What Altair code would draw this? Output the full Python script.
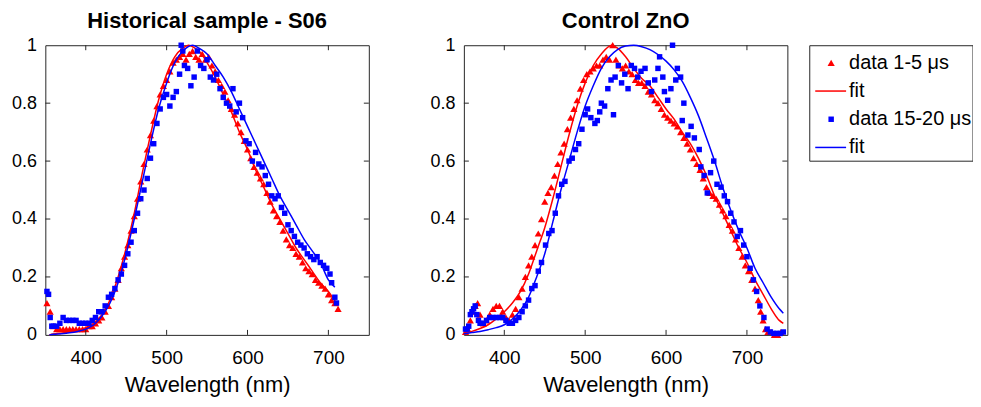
import altair as alt
import pandas as pd

FONT = "Liberation Sans"
RED = "#FF0000"
BLUE = "#0000FF"
AXC = "#262626"
W, H = 325, 291

x_ticks = [400, 500, 600, 700]
y_ticks = [0, 0.2, 0.4, 0.6, 0.8, 1]

# ---------------- Historical sample - S06 ----------------
s06_red_nm = [352, 356, 360, 364, 368, 372, 376, 380, 384, 388,
              392, 396, 400, 404, 408, 412, 416, 420, 424, 428,
              432, 436, 440, 444, 448, 452, 456, 460, 464, 468,
              472, 476, 480, 484, 488, 492, 496, 500, 504, 508,
              512, 516, 520, 524, 528, 532, 536, 540, 544, 548,
              552, 556, 560, 564, 568, 572, 576, 580, 584, 588,
              592, 596, 600, 604, 608, 612, 616, 620, 624, 628,
              632, 636, 640, 644, 648, 652, 656, 660, 664, 668,
              672, 676, 680, 684, 688, 692, 696, 700, 704, 708,
              712]
s06_red_val = [0.11, 0.08, 0.03, 0.02, 0.02, 0.02, 0.02, 0.02, 0.02, 0.02,
               0.02, 0.02, 0.02, 0.03, 0.03, 0.04, 0.05, 0.06, 0.08, 0.10,
               0.13, 0.16, 0.19, 0.23, 0.27, 0.31, 0.36, 0.41, 0.47, 0.53,
               0.59, 0.64, 0.69, 0.74, 0.79, 0.83, 0.86, 0.88, 0.91, 0.94,
               0.95, 0.96, 0.97, 0.95, 0.97, 0.98, 0.96, 0.95, 0.97, 0.95,
               0.96, 0.93, 0.91, 0.88, 0.86, 0.84, 0.81, 0.78, 0.76, 0.73,
               0.70, 0.67, 0.64, 0.61, 0.58, 0.56, 0.54, 0.52, 0.49, 0.46,
               0.43, 0.41, 0.39, 0.36, 0.33, 0.31, 0.30, 0.28, 0.27, 0.25,
               0.23, 0.22, 0.21, 0.19, 0.18, 0.17, 0.16, 0.14, 0.12, 0.11,
               0.09]
s06_redfit_nm = [355, 360, 370, 380, 390, 400, 410, 420, 430, 440, 450, 460, 470, 480, 490,
                 500, 510, 520, 527, 535, 540, 550, 560, 570, 580, 590, 600, 610, 620, 630,
                 640, 650, 660, 670, 680, 690, 700, 712]
s06_redfit_val = [0.0, 0.003, 0.006, 0.01, 0.015, 0.025, 0.04, 0.07, 0.12, 0.20, 0.30, 0.42, 0.56, 0.69, 0.81,
                  0.90, 0.96, 0.99, 1.0, 0.99, 0.98, 0.94, 0.89, 0.83, 0.77, 0.70, 0.64, 0.57, 0.51, 0.45,
                  0.40, 0.35, 0.30, 0.26, 0.22, 0.18, 0.15, 0.10]
s06_blue_nm = [352, 354, 356, 358, 360, 364, 368, 372, 376, 380,
               384, 388, 392, 396, 400, 404, 408, 412, 416, 420,
               424, 428, 432, 436, 440, 444, 448, 452, 456, 460,
               464, 468, 472, 476, 480, 484, 488, 492, 496, 500,
               504, 508, 512, 516, 518, 520, 522, 526, 530, 534,
               538, 542, 546, 550, 554, 558, 562, 566, 570, 574,
               578, 582, 586, 590, 594, 598, 602, 606, 610, 614,
               618, 622, 626, 630, 634, 638, 642, 646, 650, 654,
               658, 662, 666, 670, 674, 678, 682, 686, 690, 694,
               698, 702, 704, 708, 710]
s06_blue_val = [0.15, 0.14, 0.06, 0.03, 0.03, 0.03, 0.04, 0.06, 0.05, 0.05,
                0.05, 0.05, 0.04, 0.04, 0.04, 0.04, 0.05, 0.06, 0.08, 0.08,
                0.10, 0.13, 0.14, 0.16, 0.19, 0.21, 0.24, 0.28, 0.32, 0.36,
                0.42, 0.47, 0.50, 0.54, 0.61, 0.66, 0.73, 0.78, 0.82, 0.83,
                0.79, 0.82, 0.84, 0.90, 1.00, 0.98, 0.93, 0.92, 0.86, 0.89,
                0.98, 0.93, 0.92, 0.95, 0.89, 0.88, 0.90, 0.85, 0.82, 0.80,
                0.79, 0.85, 0.77, 0.80, 0.75, 0.67, 0.66, 0.60, 0.63, 0.59,
                0.58, 0.55, 0.52, 0.48, 0.47, 0.48, 0.44, 0.42, 0.38, 0.36,
                0.34, 0.32, 0.31, 0.30, 0.28, 0.27, 0.26, 0.27, 0.25, 0.24,
                0.23, 0.21, 0.18, 0.13, 0.11]
s06_bluefit_nm = [355, 360, 370, 380, 390, 400, 410, 420, 430, 440, 450, 460, 470, 480, 490,
                  500, 510, 520, 532, 540, 550, 560, 570, 580, 590, 600, 610, 620, 630, 640,
                  650, 660, 670, 680, 690, 700, 708]
s06_bluefit_val = [0.0, 0.002, 0.004, 0.007, 0.012, 0.02, 0.035, 0.065, 0.11, 0.18, 0.28, 0.40, 0.53, 0.66, 0.78,
                   0.87, 0.94, 0.98, 1.0, 0.99, 0.97, 0.93, 0.89, 0.84, 0.78, 0.72, 0.66, 0.60, 0.54, 0.48,
                   0.43, 0.38, 0.33, 0.29, 0.25, 0.19, 0.165]

# ---------------- Control ZnO ----------------
zno_red_nm = [352, 355, 358, 361, 364, 367, 370, 374, 378, 382,
              386, 390, 394, 398, 402, 406, 410, 414, 418, 422,
              426, 430, 434, 438, 442, 446, 450, 454, 458, 462,
              466, 470, 474, 478, 482, 486, 490, 494, 498, 502,
              506, 510, 514, 518, 522, 526, 530, 534, 538, 542,
              546, 550, 554, 558, 562, 566, 570, 574, 578, 582,
              586, 590, 594, 598, 602, 606, 610, 614, 618, 622,
              626, 630, 634, 638, 642, 646, 650, 654, 658, 662,
              666, 670, 674, 678, 682, 686, 690, 694, 698, 702,
              706, 710, 714, 717, 720, 723, 726, 730, 734, 738,
              742]
zno_red_val = [0.01, 0.02, 0.05, 0.08, 0.10, 0.11, 0.07, 0.04, 0.05, 0.07,
               0.09, 0.10, 0.10, 0.08, 0.06, 0.05, 0.07, 0.09, 0.13, 0.16,
               0.20, 0.24, 0.27, 0.31, 0.35, 0.40, 0.46, 0.49, 0.51, 0.55,
               0.59, 0.63, 0.66, 0.71, 0.75, 0.78, 0.81, 0.85, 0.88, 0.90,
               0.91, 0.92, 0.93, 0.93, 0.95, 0.96, 0.95, 1.00, 0.95, 0.93,
               0.92, 0.93, 0.91, 0.90, 0.88, 0.87, 0.87, 0.86, 0.84, 0.83,
               0.81, 0.80, 0.78, 0.76, 0.75, 0.74, 0.73, 0.72, 0.70, 0.68,
               0.66, 0.64, 0.61, 0.59, 0.57, 0.54, 0.51, 0.49, 0.48, 0.47,
               0.45, 0.43, 0.41, 0.38, 0.36, 0.33, 0.30, 0.27, 0.24, 0.22,
               0.19, 0.16, 0.12, 0.08, 0.05, 0.02, 0.01, 0.01, 0.0, 0.0,
               0.01]
zno_redfit_nm = [350, 360, 370, 380, 390, 400, 410, 420, 430, 440, 450, 460, 470, 480, 490,
                 500, 510, 520, 533, 540, 550, 560, 570, 580, 590, 600, 610, 620, 630, 640,
                 650, 660, 670, 680, 690, 700, 710, 720, 730, 740, 745]
zno_redfit_val = [0.005, 0.012, 0.022, 0.035, 0.055, 0.08, 0.11, 0.15, 0.21, 0.29, 0.37, 0.47, 0.58, 0.69, 0.79,
                  0.87, 0.93, 0.97, 1.0, 0.99, 0.96, 0.92, 0.885, 0.86, 0.82, 0.78, 0.745, 0.70, 0.66, 0.61,
                  0.55, 0.48, 0.42, 0.36, 0.30, 0.25, 0.19, 0.14, 0.09, 0.05, 0.04]
zno_blue_nm = [352, 354, 356, 358, 360, 362, 364, 366, 368, 370,
               374, 378, 382, 386, 390, 394, 398, 402, 406, 410,
               414, 418, 422, 426, 430, 434, 438, 442, 446, 451,
               455, 459, 463, 467, 471, 475, 480, 484, 488, 492,
               496, 500, 503, 507, 512, 515, 518, 520, 524, 528,
               532, 535, 537, 541, 545, 549, 553, 557, 561, 565,
               569, 574, 578, 582, 586, 590, 592, 596, 598, 602,
               606, 608, 612, 614, 618, 620, 622, 627, 631, 635,
               641, 643, 647, 651, 655, 659, 663, 668, 672, 676,
               680, 684, 688, 692, 696, 700, 704, 708, 712, 716,
               721, 725, 729, 733, 737, 741, 745]
zno_blue_val = [0.02, 0.02, 0.03, 0.07, 0.08, 0.09, 0.10, 0.07, 0.05, 0.04,
                0.04, 0.05, 0.06, 0.06, 0.06, 0.06, 0.06, 0.05, 0.04, 0.04,
                0.05, 0.06, 0.08, 0.10, 0.12, 0.16, 0.17, 0.22, 0.25, 0.31,
                0.35, 0.36, 0.42, 0.48, 0.52, 0.53, 0.60, 0.61, 0.64, 0.66,
                0.71, 0.76, 0.78, 0.75, 0.73, 0.74, 0.77, 0.80, 0.79, 0.85,
                0.88, 0.76, 0.89, 0.93, 0.87, 0.90, 0.85, 0.93, 0.92, 0.89,
                0.91, 0.92, 0.87, 0.84, 0.88, 0.92, 0.96, 0.89, 0.84, 0.81,
                0.85, 1.00, 0.88, 0.92, 0.89, 0.74, 0.80, 0.69, 0.72, 0.68,
                0.64, 0.58, 0.55, 0.49, 0.56, 0.60, 0.52, 0.51, 0.48, 0.46,
                0.42, 0.39, 0.34, 0.36, 0.31, 0.27, 0.23, 0.19, 0.15, 0.10,
                0.06, 0.02, 0.01, 0.005, 0.005, 0.005, 0.01]
zno_bluefit_nm = [350, 360, 370, 380, 390, 400, 410, 420, 430, 440, 450, 460, 470, 480, 490,
                  500, 510, 520, 530, 540, 550, 560, 570, 580, 590, 600, 610, 620, 630, 640,
                  650, 660, 670, 680, 690, 700, 710, 720, 730, 740, 745]
zno_bluefit_val = [0.004, 0.008, 0.012, 0.018, 0.025, 0.035, 0.055, 0.085, 0.13, 0.20, 0.28, 0.39, 0.50, 0.60, 0.70,
                   0.79, 0.86, 0.92, 0.96, 0.985, 0.997, 1.0, 0.995, 0.985, 0.968, 0.945, 0.915, 0.875, 0.82, 0.757,
                   0.68, 0.60, 0.51, 0.43, 0.36, 0.30, 0.23, 0.18, 0.13, 0.09, 0.075]

# ---------------- legend ----------------
leg_labels = ["data 1-5 \u03bcs", "fit", "data 15-20 \u03bcs", "fit"]
leg_kinds = ["triangle-up", "line", "square", "line"]
leg_colors = [RED, RED, BLUE, BLUE]

TITLE_SIZE = 22
XTITLE_SIZE = 22
YLABEL_SIZE = 18
XLABEL_SIZE = 19
LEG_SIZE = 20
TRI_SIZE = 52
SQ_SIZE = 30


def df(nm, val):
    return pd.DataFrame({"nm": nm, "v": val})


def panel(title, rn, rv, rfn, rfv, bn, bv, bfn, bfv):
    xs = alt.Scale(domain=[350, 750], nice=False, zero=False)
    ys = alt.Scale(domain=[0, 1], nice=False, zero=False)
    xax = alt.Axis(values=x_ticks, format="d", title="Wavelength (nm)", grid=False,
                   ticks=False, tickSize=0, domain=False, labelPadding=14,
                   labelFontSize=XLABEL_SIZE, titleFontSize=XTITLE_SIZE, titleFontWeight="normal",
                   titlePadding=6.5, labelColor="black", titleColor="black", labelFont=FONT, titleFont=FONT)
    yax = alt.Axis(values=y_ticks, format="~g", title=None, grid=False, ticks=False, tickSize=0,
                   domain=False, labelPadding=9, labelFontSize=YLABEL_SIZE, labelColor="black",
                   labelFont=FONT)
    X = alt.X("nm:Q", scale=xs, axis=xax)
    Y = alt.Y("v:Q", scale=ys, axis=yax)

    red_pts = alt.Chart(df(rn, rv)).mark_point(shape="triangle-up", filled=True, size=TRI_SIZE,
                                               color=RED, opacity=1).encode(x=X, y=Y)
    red_fit = alt.Chart(df(rfn, rfv)).mark_line(color=RED, strokeWidth=1.5,
                                                interpolate="monotone").encode(x=X, y=Y)
    blue_pts = alt.Chart(df(bn, bv)).mark_point(shape="square", filled=True, size=SQ_SIZE,
                                                color=BLUE, opacity=1).encode(x=X, y=Y)
    blue_fit = alt.Chart(df(bfn, bfv)).mark_line(color=BLUE, strokeWidth=1.5,
                                                 interpolate="monotone").encode(x=X, y=Y)

    xt = pd.DataFrame({"nm": x_ticks})
    yt = pd.DataFrame({"v": y_ticks[1:-1]})
    tb = alt.Chart(xt).mark_rule(color=AXC, strokeWidth=1).encode(x=X, y=alt.value(H), y2=alt.value(H - 5))
    tt = alt.Chart(xt).mark_rule(color=AXC, strokeWidth=1).encode(x=X, y=alt.value(0), y2=alt.value(5))
    tl = alt.Chart(yt).mark_rule(color=AXC, strokeWidth=1).encode(y=Y, x=alt.value(0), x2=alt.value(5))
    tr = alt.Chart(yt).mark_rule(color=AXC, strokeWidth=1).encode(y=Y, x=alt.value(W), x2=alt.value(W - 5))

    return alt.layer(red_pts, red_fit, blue_pts, blue_fit, tb, tt, tl, tr).properties(
        width=W, height=H,
        view=alt.ViewBackground(stroke=AXC, strokeWidth=1),
        title=alt.TitleParams(title, fontSize=TITLE_SIZE, fontWeight="bold", font=FONT,
                              color="black", anchor="middle", offset=3),
    )


left = panel("Historical sample - S06", s06_red_nm, s06_red_val, s06_redfit_nm, s06_redfit_val,
             s06_blue_nm, s06_blue_val, s06_bluefit_nm, s06_bluefit_val)
right = panel("Control ZnO", zno_red_nm, zno_red_val, zno_redfit_nm, zno_redfit_val,
              zno_blue_nm, zno_blue_val, zno_bluefit_nm, zno_bluefit_val)

leg = pd.DataFrame({"label": leg_labels, "kind": leg_kinds, "color": leg_colors,
                    "row": list(range(len(leg_labels)))})
LY = alt.Y("row:Q", scale=alt.Scale(domain=[-0.625, 3.47], reverse=True, nice=False, zero=False), axis=None)
base = alt.Chart(leg)
leg_tri = base.transform_filter("datum.kind == 'triangle-up'").mark_point(
    shape="triangle-up", filled=True, size=TRI_SIZE, opacity=1).encode(
    x=alt.value(22), y=LY, color=alt.Color("color:N", scale=None))
leg_sq = base.transform_filter("datum.kind == 'square'").mark_point(
    shape="square", filled=True, size=SQ_SIZE, opacity=1).encode(
    x=alt.value(22), y=LY, color=alt.Color("color:N", scale=None))
leg_ln = base.transform_filter("datum.kind == 'line'").mark_rule(strokeWidth=1.5).encode(
    x=alt.value(6), x2=alt.value(37), y=LY, color=alt.Color("color:N", scale=None))
leg_tx = base.mark_text(align="left", baseline="middle", fontSize=LEG_SIZE, font=FONT,
                        color="black").encode(x=alt.value(40), y=LY, text="label:N")
legend = alt.layer(leg_tri, leg_sq, leg_ln, leg_tx).properties(
    width=164, height=116,
    view=alt.ViewBackground(stroke=AXC, strokeWidth=1),
    title=alt.TitleParams(" ", fontSize=TITLE_SIZE, fontWeight="bold", font=FONT, offset=3),
)

chart = alt.hconcat(
    alt.hconcat(left, right, spacing=59.5),
    legend,
    spacing=19.5,
).properties(
    padding={"left": 2.5, "top": 0.5, "right": 0, "bottom": 0}
).configure(
    font=FONT, background="white"
).configure_view(
    stroke=AXC, strokeWidth=1
)

chart.save("out.html", embed_options={"renderer": "svg", "actions": False})
